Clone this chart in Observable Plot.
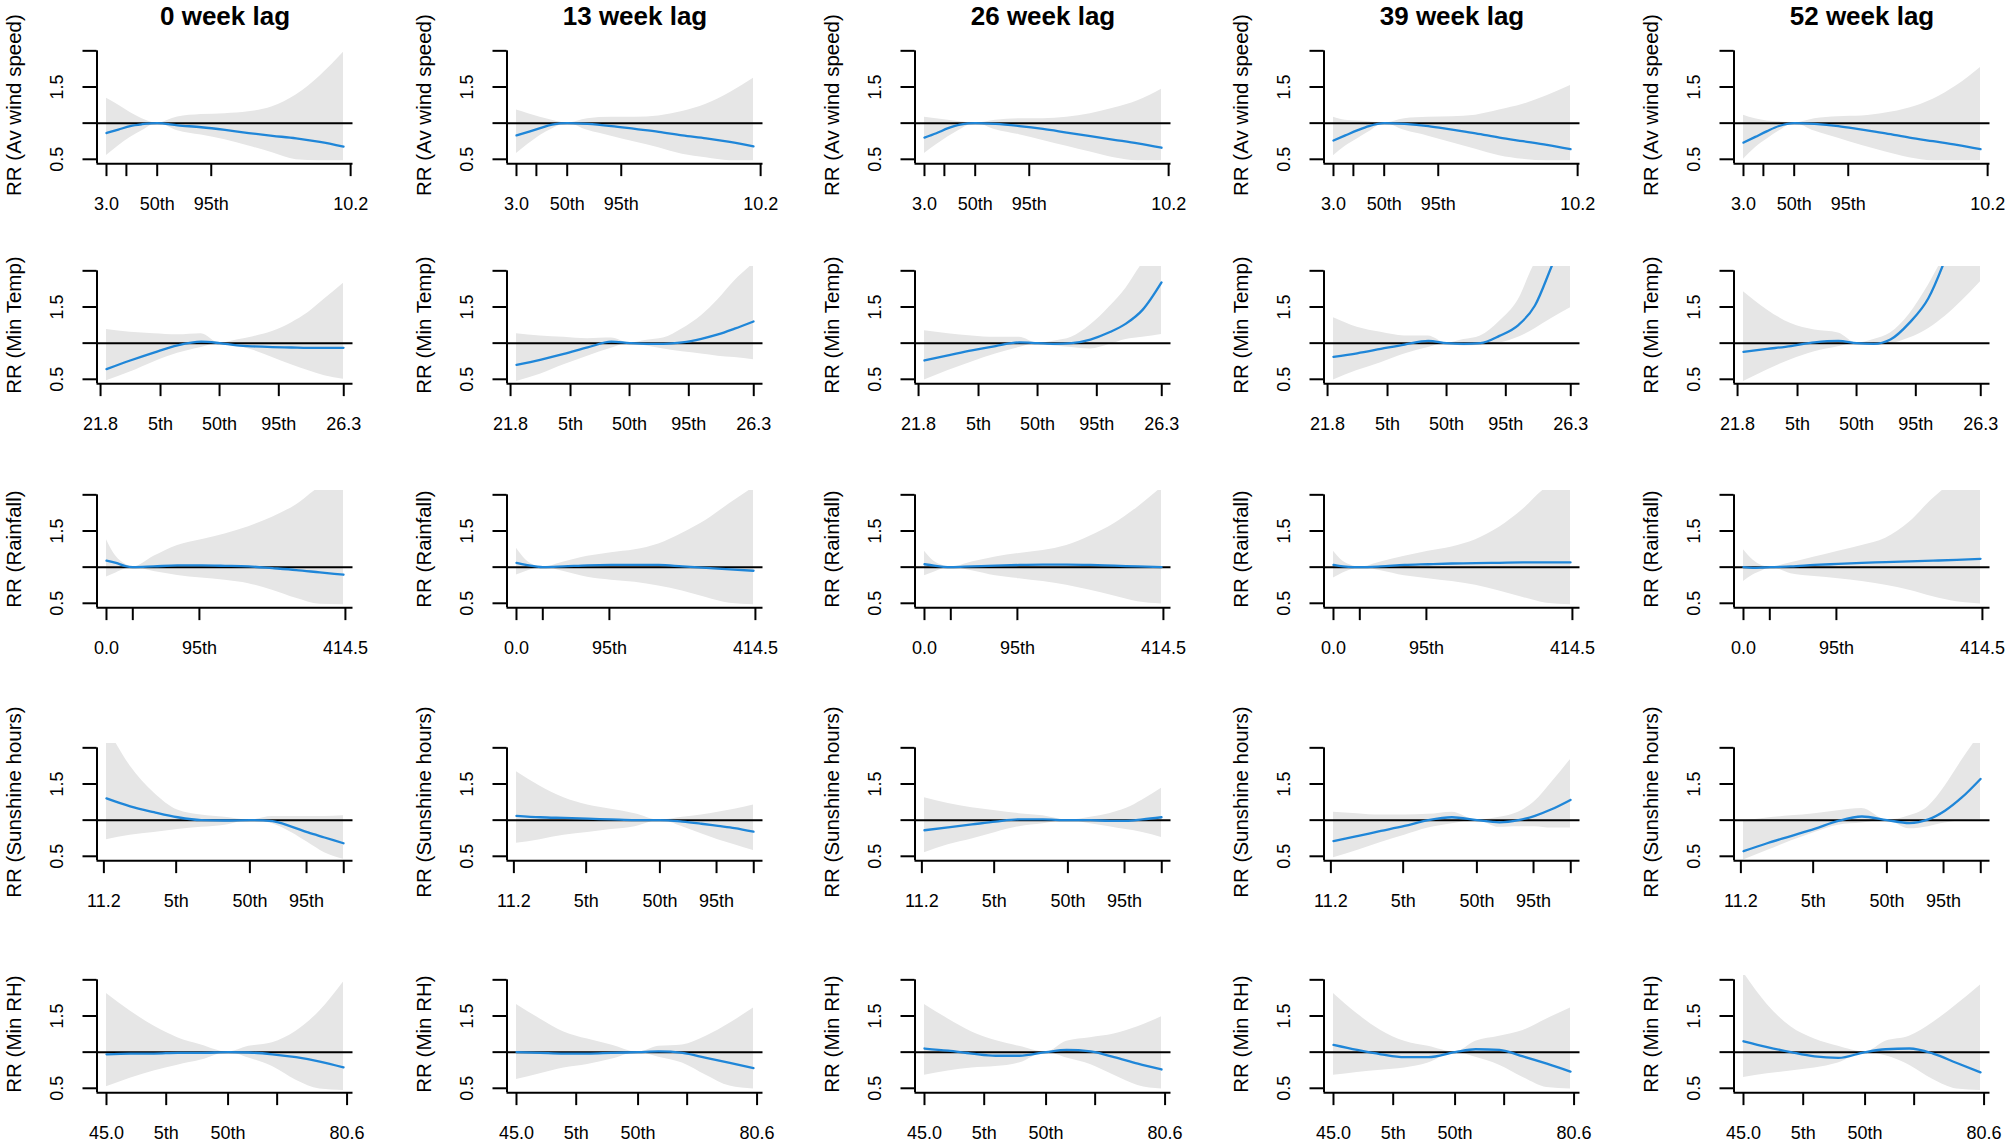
<!DOCTYPE html>
<html><head><meta charset="utf-8">
<script src="https://cdn.jsdelivr.net/npm/d3@7"></script>
<script src="https://cdn.jsdelivr.net/npm/@observablehq/plot@0.6"></script>
<style>
html,body{margin:0;padding:0;background:#fff;overflow:hidden}
#grid{position:relative;width:2006px;height:1144px;overflow:hidden;background:#fff}
#grid svg{position:absolute;overflow:visible}
</style></head><body><div id="grid"></div>
<script>
// ---------- categories / labels ----------
const lagTitles = ["0 week lag", "13 week lag", "26 week lag", "39 week lag", "52 week lag"];
const rowLabels = ["RR (Av wind speed)", "RR (Min Temp)", "RR (Rainfall)", "RR (Sunshine hours)", "RR (Min RH)"];
const yTicks = [0.5, 1, 1.5, 2];
const yTickLabels = [0.5, 1.5];

// x positions are in percent of each exposure's observed range
// ---------- Av wind speed ----------
const windX = [0, 5, 10, 15, 21.4, 30, 40, 50, 60, 70, 80, 90, 100];
const windTicks = [0, 8.4, 21.4, 44.2, 103.0];
const windTickLabels = ["3.0", "", "50th", "95th", "10.2"];
const windFit = [
  [0.863, 0.91, 0.96, 0.985, 1.0, 0.97, 0.943, 0.906, 0.863, 0.825, 0.79, 0.74, 0.675],
  [0.83, 0.88, 0.93, 0.98, 1.0, 0.99, 0.96, 0.92, 0.88, 0.83, 0.79, 0.74, 0.68],
  [0.80, 0.86, 0.93, 0.98, 1.0, 0.99, 0.96, 0.92, 0.87, 0.82, 0.77, 0.72, 0.66],
  [0.76, 0.83, 0.90, 0.96, 1.0, 0.99, 0.96, 0.91, 0.86, 0.80, 0.75, 0.70, 0.64],
  [0.73, 0.81, 0.89, 0.96, 1.0, 0.99, 0.96, 0.91, 0.86, 0.80, 0.75, 0.70, 0.64]
];
const windHi = [
  [1.344, 1.25, 1.146, 1.06, 1.0, 1.085, 1.118, 1.13, 1.156, 1.226, 1.39, 1.65, 1.98],
  [1.18, 1.13, 1.08, 1.04, 1.0, 1.06, 1.08, 1.08, 1.10, 1.16, 1.26, 1.42, 1.62],
  [1.08, 1.06, 1.04, 1.02, 1.0, 1.04, 1.06, 1.06, 1.08, 1.13, 1.21, 1.31, 1.47],
  [1.08, 1.04, 1.03, 1.02, 1.0, 1.06, 1.08, 1.09, 1.11, 1.18, 1.26, 1.38, 1.52],
  [1.11, 1.06, 1.03, 1.02, 1.0, 1.06, 1.09, 1.10, 1.14, 1.21, 1.33, 1.52, 1.77]
];
const windLo = [
  [0.552, 0.684, 0.80, 0.896, 1.0, 0.896, 0.835, 0.77, 0.684, 0.59, 0.495, 0.48, 0.48],
  [0.58, 0.71, 0.83, 0.92, 1.0, 0.90, 0.82, 0.74, 0.66, 0.57, 0.52, 0.48, 0.48],
  [0.58, 0.70, 0.81, 0.91, 1.0, 0.91, 0.84, 0.76, 0.68, 0.60, 0.52, 0.48, 0.48],
  [0.55, 0.68, 0.78, 0.88, 1.0, 0.90, 0.82, 0.73, 0.64, 0.55, 0.50, 0.48, 0.48],
  [0.50, 0.66, 0.78, 0.89, 1.0, 0.89, 0.79, 0.69, 0.60, 0.52, 0.48, 0.48, 0.48]
];

// ---------- Min Temp ----------
const tempX = [0, 10, 20, 30, 40, 47.7, 55, 62, 70, 78, 85, 92, 100];
const tempTicks = [-2.5, 22.8, 47.7, 72.7, 100.1];
const tempTickLabels = ["21.8", "5th", "50th", "95th", "26.3"];
const tempFit = [
  [0.64, 0.76, 0.87, 0.97, 1.02, 1.0, 0.97, 0.955, 0.945, 0.94, 0.935, 0.935, 0.935],
  [0.70, 0.77, 0.85, 0.94, 1.02, 1.0, 0.99, 0.99, 1.01, 1.06, 1.12, 1.20, 1.30],
  [0.76, 0.83, 0.90, 0.96, 1.01, 1.0, 0.99, 1.0, 1.05, 1.15, 1.27, 1.46, 1.84],
  [0.81, 0.86, 0.92, 0.98, 1.03, 1.0, 0.99, 1.0, 1.10, 1.25, 1.52, 2.06, 2.7],
  [0.88, 0.92, 0.96, 1.01, 1.03, 1.0, 0.99, 1.05, 1.28, 1.62, 2.15, 2.8, 3.5]
];
const tempHi = [
  [1.19, 1.15, 1.13, 1.115, 1.13, 1.0, 1.045, 1.09, 1.16, 1.28, 1.42, 1.61, 1.83],
  [1.13, 1.10, 1.08, 1.06, 1.07, 1.0, 1.04, 1.07, 1.20, 1.38, 1.60, 1.86, 2.1],
  [1.17, 1.13, 1.10, 1.08, 1.08, 1.0, 1.03, 1.08, 1.25, 1.50, 1.76, 2.1, 2.3],
  [1.35, 1.22, 1.15, 1.10, 1.10, 1.0, 1.05, 1.10, 1.30, 1.60, 2.1, 2.3, 2.4],
  [1.71, 1.46, 1.27, 1.18, 1.14, 1.0, 1.05, 1.14, 1.40, 1.80, 2.2, 2.4, 2.5]
];
const tempLo = [
  [0.48, 0.60, 0.74, 0.86, 0.94, 1.0, 0.96, 0.90, 0.80, 0.70, 0.62, 0.55, 0.50],
  [0.47, 0.57, 0.70, 0.82, 0.93, 1.0, 0.96, 0.92, 0.88, 0.85, 0.82, 0.80, 0.77],
  [0.49, 0.62, 0.74, 0.85, 0.94, 1.0, 0.96, 0.94, 0.92, 0.98, 1.05, 1.08, 1.12],
  [0.49, 0.62, 0.73, 0.85, 0.94, 1.0, 0.96, 0.97, 1.0, 1.08, 1.2, 1.34, 1.49],
  [0.47, 0.63, 0.77, 0.88, 0.95, 1.0, 0.97, 0.99, 1.07, 1.20, 1.37, 1.58, 1.85]
];

// ---------- Rainfall ----------
const rainX = [0, 4, 8, 11.1, 20, 30, 40, 50, 60, 70, 80, 90, 100];
const rainTicks = [0, 11.1, 39.2, 100.8];
const rainTickLabels = ["0.0", "", "95th", "414.5"];
const rainFit = [
  [1.09, 1.06, 1.014, 1.0, 1.01, 1.023, 1.023, 1.018, 1.01, 0.986, 0.96, 0.927, 0.895],
  [1.06, 1.03, 1.01, 1.0, 1.01, 1.025, 1.03, 1.03, 1.03, 1.01, 0.99, 0.97, 0.95],
  [1.04, 1.02, 1.005, 1.0, 1.01, 1.02, 1.03, 1.035, 1.035, 1.03, 1.02, 1.01, 1.0],
  [1.03, 1.01, 1.0, 1.0, 1.01, 1.03, 1.04, 1.05, 1.055, 1.06, 1.065, 1.065, 1.065],
  [1.0, 0.99, 0.995, 1.0, 1.01, 1.03, 1.045, 1.06, 1.07, 1.08, 1.09, 1.10, 1.115]
];
const rainHi = [
  [1.38, 1.15, 1.04, 1.0, 1.15, 1.3, 1.38, 1.46, 1.56, 1.69, 1.86, 2.1, 2.2],
  [1.26, 1.10, 1.02, 1.0, 1.07, 1.15, 1.20, 1.24, 1.32, 1.47, 1.65, 1.88, 2.1],
  [1.22, 1.08, 1.02, 1.0, 1.07, 1.14, 1.19, 1.23, 1.30, 1.43, 1.60, 1.83, 2.1],
  [1.22, 1.08, 1.02, 1.0, 1.07, 1.15, 1.22, 1.28, 1.38, 1.55, 1.80, 2.1, 2.2],
  [1.24, 1.10, 1.02, 1.0, 1.06, 1.14, 1.22, 1.30, 1.40, 1.62, 1.95, 2.2, 2.3]
];
const rainLo = [
  [0.864, 0.92, 0.977, 1.0, 0.94, 0.886, 0.85, 0.818, 0.77, 0.68, 0.568, 0.486, 0.48],
  [0.89, 0.94, 0.98, 1.0, 0.94, 0.86, 0.82, 0.79, 0.74, 0.67, 0.58, 0.50, 0.48],
  [0.88, 0.93, 0.98, 1.0, 0.95, 0.88, 0.84, 0.80, 0.75, 0.68, 0.60, 0.52, 0.49],
  [0.85, 0.92, 0.97, 1.0, 0.95, 0.88, 0.84, 0.80, 0.75, 0.67, 0.58, 0.50, 0.48],
  [0.80, 0.89, 0.95, 1.0, 0.91, 0.87, 0.84, 0.80, 0.75, 0.68, 0.59, 0.52, 0.49]
];

// ---------- Sunshine hours ----------
const sunX = [0, 10, 20, 30, 40, 50, 60.5, 70, 78, 85, 92, 100];
const sunTicks = [-1.1, 29.4, 60.5, 84.4, 100.1];
const sunTickLabels = ["11.2", "5th", "50th", "95th", ""];
const sunFit = [
  [1.3, 1.19, 1.11, 1.04, 1.0, 0.995, 1.0, 0.985, 0.91, 0.83, 0.76, 0.68],
  [1.06, 1.04, 1.03, 1.02, 1.01, 1.0, 1.0, 0.98, 0.95, 0.92, 0.89, 0.84],
  [0.86, 0.90, 0.94, 0.98, 1.01, 1.01, 1.0, 1.0, 0.99, 0.99, 1.01, 1.04],
  [0.71, 0.78, 0.85, 0.92, 1.0, 1.04, 1.0, 0.97, 1.0, 1.06, 1.15, 1.28],
  [0.57, 0.68, 0.78, 0.88, 0.99, 1.05, 1.0, 0.96, 1.01, 1.13, 1.31, 1.57]
];
const sunHi = [
  [2.3, 1.75, 1.38, 1.14, 1.07, 1.04, 1.0, 1.05, 1.05, 1.05, 1.05, 1.06],
  [1.67, 1.47, 1.31, 1.21, 1.15, 1.09, 1.0, 1.04, 1.07, 1.11, 1.15, 1.21],
  [1.31, 1.23, 1.17, 1.13, 1.09, 1.06, 1.0, 1.04, 1.09, 1.16, 1.28, 1.44],
  [1.11, 1.09, 1.07, 1.07, 1.08, 1.11, 1.0, 1.04, 1.11, 1.26, 1.52, 1.84],
  [0.99, 1.03, 1.06, 1.09, 1.13, 1.16, 1.0, 1.06, 1.19, 1.47, 1.82, 2.2]
];
const sunLo = [
  [0.73, 0.79, 0.83, 0.87, 0.90, 0.93, 1.0, 0.95, 0.83, 0.69, 0.55, 0.46],
  [0.68, 0.73, 0.79, 0.83, 0.87, 0.91, 1.0, 0.91, 0.81, 0.73, 0.66, 0.58],
  [0.55, 0.66, 0.74, 0.83, 0.91, 0.95, 1.0, 0.95, 0.91, 0.87, 0.83, 0.76],
  [0.48, 0.58, 0.69, 0.79, 0.89, 0.95, 1.0, 0.90, 0.91, 0.91, 0.89, 0.89],
  [0.45, 0.58, 0.71, 0.83, 0.93, 0.96, 1.0, 0.88, 0.91, 0.96, 0.99, 1.01]
];

// ---------- Min RH ----------
const rhX = [0, 10, 20, 30, 40, 51.3, 60, 70, 80, 90, 100];
const rhTicks = [0, 25.2, 51.3, 72.0, 101.5];
const rhTickLabels = ["45.0", "5th", "50th", "", "80.6"];
const rhFit = [
  [0.97, 0.98, 0.98, 0.99, 0.99, 1.0, 0.995, 0.97, 0.93, 0.87, 0.79],
  [1.0, 0.99, 0.98, 0.98, 0.99, 1.0, 1.01, 0.99, 0.92, 0.85, 0.78],
  [1.05, 1.02, 0.98, 0.95, 0.95, 1.0, 1.03, 1.01, 0.93, 0.84, 0.76],
  [1.10, 1.03, 0.97, 0.93, 0.93, 1.0, 1.04, 1.03, 0.94, 0.84, 0.73],
  [1.15, 1.07, 1.0, 0.94, 0.92, 1.0, 1.04, 1.05, 0.98, 0.85, 0.72]
];
const rhHi = [
  [1.81, 1.57, 1.36, 1.2, 1.1, 1.0, 1.08, 1.13, 1.29, 1.57, 1.97],
  [1.66, 1.46, 1.28, 1.18, 1.1, 1.0, 1.08, 1.10, 1.22, 1.40, 1.61],
  [1.66, 1.46, 1.28, 1.16, 1.08, 1.0, 1.15, 1.20, 1.25, 1.35, 1.49],
  [1.81, 1.53, 1.30, 1.15, 1.08, 1.0, 1.15, 1.22, 1.30, 1.46, 1.61],
  [2.1, 1.66, 1.35, 1.18, 1.08, 1.0, 1.15, 1.22, 1.41, 1.66, 1.93]
];
const rhLo = [
  [0.52, 0.64, 0.74, 0.82, 0.89, 1.0, 0.92, 0.80, 0.61, 0.49, 0.47],
  [0.62, 0.70, 0.78, 0.83, 0.90, 1.0, 0.93, 0.85, 0.68, 0.53, 0.49],
  [0.68, 0.74, 0.78, 0.80, 0.85, 1.0, 0.92, 0.83, 0.68, 0.54, 0.49],
  [0.68, 0.72, 0.75, 0.78, 0.85, 1.0, 0.93, 0.82, 0.65, 0.51, 0.49],
  [0.65, 0.70, 0.74, 0.78, 0.85, 1.0, 0.95, 0.82, 0.62, 0.49, 0.47]
];

// ---------- assembly ----------
const rowX = [windX, tempX, rainX, sunX, rhX];
const rowFit = [windFit, tempFit, rainFit, sunFit, rhFit];
const rowHi = [windHi, tempHi, rainHi, sunHi, rhHi];
const rowLo = [windLo, tempLo, rainLo, sunLo, rhLo];
const rowTicks = [windTicks, tempTicks, rainTicks, sunTicks, rhTicks];
const rowTickLabels = [windTickLabels, tempTickLabels, rainTickLabels, sunTickLabels, rhTickLabels];

// layout (scale domains and panel placement)
const XDOM = [-4, 104];
const YDOM = [0.44, 2.06];
const AXIS_LEFT = [96.5, 506, 914.5, 1323, 1733];
const ROW_TOP2 = [50, 270, 494, 747, 979]; // pixel of RR = 2.0
const PXU = 72.3;
const ML = 96.5, PW = 256, W = 409, MT = 40, MB = 66;
const PH = (YDOM[1] - YDOM[0]) * PXU;
const H = MT + PH + MB;
const BLUE = "#1f86d8", GREY = "#e6e6e6";

const grid = document.getElementById("grid");

for (let r = 0; r < 5; r++) {
  for (let c = 0; c < 5; c++) {
    const X = rowX[r];
    const data = X.map((x, i) => ({x, fit: rowFit[r][c][i], lo: rowLo[r][c][i], hi: rowHi[r][c][i]}));
    const ticks = rowTicks[r], tlabels = rowTickLabels[r];
    const marks = [
      Plot.areaY(data, {x: "x", y1: "lo", y2: "hi", fill: GREY, curve: "monotone-x", clip: true}),
      Plot.ruleY([1], {stroke: "black", strokeWidth: 2}),
      Plot.lineY(data, {x: "x", y: "fit", stroke: BLUE, strokeWidth: 2.3, curve: "monotone-x", clip: true}),
      Plot.ruleX([XDOM[0]], {y1: YDOM[0], y2: yTicks[yTicks.length - 1], stroke: "black", strokeWidth: 2}),
      Plot.ruleY([YDOM[0]], {x1: XDOM[0], x2: XDOM[1], stroke: "black", strokeWidth: 2}),
      Plot.axisY({ticks: yTicks, anchor: "left", tickSize: 14, tickFormat: () => "", label: null, stroke: "black", strokeWidth: 2}),
      Plot.text(yTickLabels, {y: d => d, frameAnchor: "left", textAnchor: "middle", lineAnchor: "middle", dx: -40, rotate: -90, text: d => d.toFixed(1), fontSize: 18}),
      Plot.axisX({ticks, anchor: "bottom", tickSize: 13, tickPadding: 21, label: null,
        tickFormat: d => tlabels[ticks.indexOf(d)] ?? "", stroke: "black", strokeWidth: 2, fontSize: 18}),
      Plot.text([rowLabels[r]], {frameAnchor: "left", textAnchor: "middle", lineAnchor: "middle", dx: -83, rotate: -90, fontSize: 20.5})
    ];
    if (r === 0) marks.push(Plot.text([lagTitles[c]], {frameAnchor: "top", textAnchor: "middle", lineAnchor: "middle", dy: -30, fontSize: 26, fontWeight: "bold"}));
    const svg = Plot.plot({
      width: W, height: H,
      marginLeft: ML, marginRight: W - ML - PW, marginTop: MT, marginBottom: MB,
      x: {domain: XDOM, axis: null},
      y: {domain: YDOM, axis: null},
      style: {fontFamily: "'Liberation Sans', Arial, Helvetica, sans-serif", fontSize: "18px", background: "transparent", color: "black", overflow: "visible"},
      marks
    });
    svg.style.left = (AXIS_LEFT[c] - ML) + "px";
    svg.style.top = (ROW_TOP2[r] - (YDOM[1] - 2) * PXU - MT) + "px";
    grid.appendChild(svg);
  }
}
</script>
</body></html>
